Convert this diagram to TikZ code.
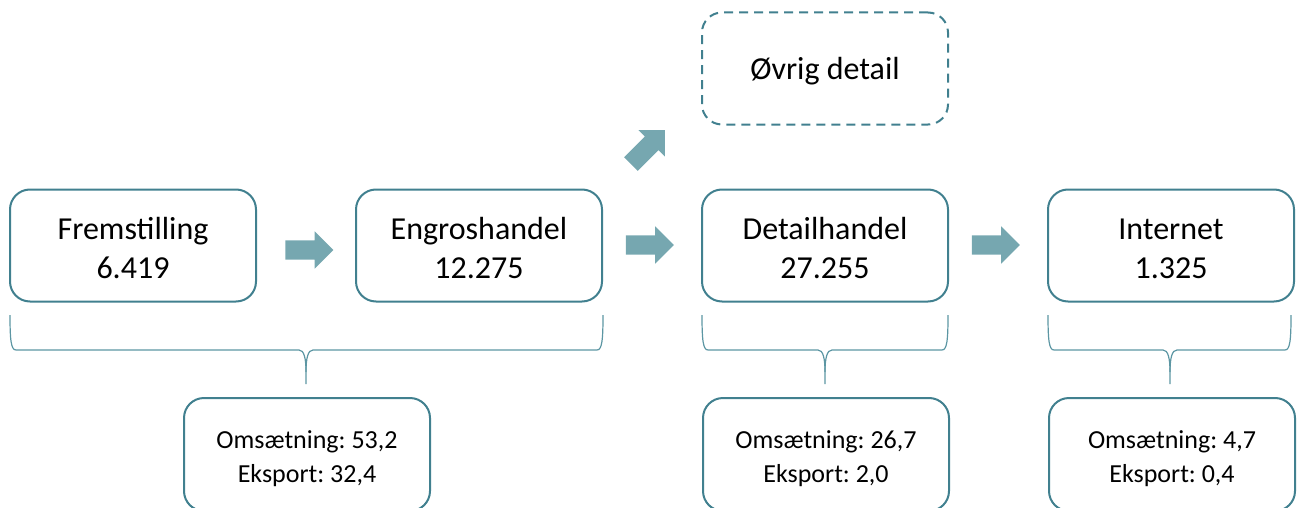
\documentclass[tikz,border=0pt]{standalone}
\usepackage{fontspec}
\setmainfont{Carlito}
\usetikzlibrary{shapes.arrows}
\definecolor{boxline}{HTML}{41808F}
\definecolor{arrowfill}{HTML}{76A7B0}
\definecolor{braceline}{HTML}{5C96A3}
\newcommand{\twolines}[3]{\raisebox{-#1}[\height][\depth]{\begin{tabular}{@{}c@{}}#2\\#3\end{tabular}}}
\tikzset{
  mainbox/.style={draw=boxline, line width=2pt, rounded corners=20pt, minimum width=246pt, minimum height=112pt, align=center, font=\frenchspacing\fontsize{32}{39}\selectfont, inner sep=0pt},
  lowbox/.style={draw=boxline, line width=2pt, rounded corners=20pt, minimum width=246pt, minimum height=113pt, align=center, font=\frenchspacing\fontsize{26}{34}\selectfont, inner sep=0pt},
  dashbox/.style={mainbox, dash pattern=on 9pt off 6pt},
  blockarrow/.style={single arrow, fill=arrowfill, draw=none, minimum height=48pt, inner xsep=0pt, inner ysep=9.5pt, single arrow head extend=9pt, single arrow head indent=0pt, anchor=center},
  bracestyle/.style={draw=braceline, line width=1.2pt}
}
\renewcommand{\arraystretch}{1}
\newcommand{\mybrace}[3]{%
  \draw[bracestyle] (#1,315) .. controls (#1,340) and (#1+1,350) .. (#1+6,350) -- (#2-7,350)
     .. controls (#2-2,350) and (#2,358) .. (#2,372) -- (#2,384);
  \draw[bracestyle] (#2,372) .. controls (#2,358) and (#2+2,350) .. (#2+7,350) -- (#3-6,350)
     .. controls (#3-1,350) and (#3,340) .. (#3,315);
}
\begin{document}
\begin{tikzpicture}[x=1pt,y=-1pt]
\useasboundingbox (0,0) rectangle (1297,508);
\clip (0,0) rectangle (1297,508);
\node[mainbox] (frem) at (133,245.5) {\twolines{6pt}{Fremstilling}{6.419}};
\node[mainbox] (engros) at (479,245.5) {\twolines{6pt}{Engroshandel}{12.275}};
\node[mainbox] (detail) at (825,245.5) {\twolines{6pt}{Detailhandel}{27.255}};
\node[mainbox] (internet) at (1171,245.5) {\twolines{6pt}{Internet}{1.325}};
\node[dashbox] (ovrig) at (825,68.5) {\raisebox{-3pt}[\height][\depth]{Øvrig detail}};

\node[blockarrow] (a1) at (304.5,250) {};
\node[blockarrow] (a2) at (645,245) {};
\node[blockarrow] (a3) at (991,245) {};
\node[blockarrow, rotate=45] (a4) at (644.5,150.5) {};

\mybrace{10}{306}{603}
\mybrace{702}{825}{948}
\mybrace{1048}{1170}{1291}

\node[lowbox] (l1) at (307,454.5) {\twolines{4pt}{Omsætning: 53,2}{Eksport: 32,4}};
\node[lowbox] (l2) at (826,454.5) {\twolines{4pt}{Omsætning: 26,7}{Eksport: 2,0}};
\node[lowbox] (l3) at (1172,454.5) {\twolines{4pt}{Omsætning: 4,7}{Eksport: 0,4}};
\end{tikzpicture}
\end{document}
